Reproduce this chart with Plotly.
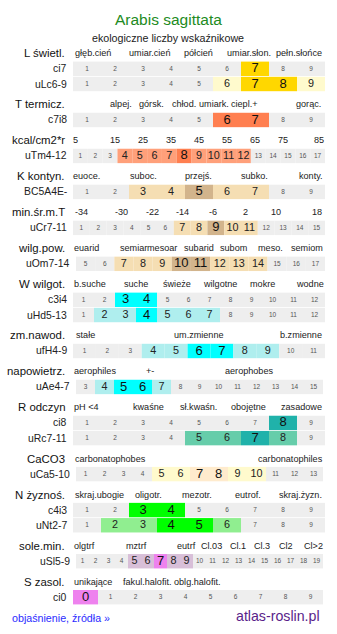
import plotly.graph_objects as go

W, H = 337, 634
FONT = "Liberation Sans, Arial, sans-serif"

TITLE = "Arabis sagittata"
SUBTITLE = "ekologiczne liczby wskaźnikowe"
FOOT_LEFT = "objaśnienie, źródła »"
FOOT_RIGHT = "atlas-roslin.pl"

# ---- data -------------------------------------------------------------
section_names = ["L świetl.", "T termicz.", "kcal/cm2*r", "K kontyn.", "min.śr.m.T",
                 "wilg.pow.", "W wilgot.", "zm.nawod.", "napowietrz.", "R odczyn",
                 "CaCO3", "N żyznoś.", "sole.min.", "S zasol."]

section_headers = [
    ["głęb.cień", "umiar.cień", "półcień", "umiar.słon.", "pełn.słońce"],
    ["alpej.", "górsk.", "chłod.", "umiark.", "ciepl.+", "gorąc."],
    ["5", "15", "25", "35", "45", "55", "65", "75", "85"],
    ["euoce.", "suboc.", "przejś.", "subko.", "konty."],
    ["-34", "-30", "-22", "-14", "-6", "2", "10", "18"],
    ["euarid", "semiar", "mesoar", "subarid", "subom", "meso.", "semiom"],
    ["b.suche", "suche", "świeże", "wilgotne", "mokre", "wodne"],
    ["stałe", "um.zmienne", "b.zmienne"],
    ["aerophiles", "+-", "aerophobes"],
    ["pH <4", "kwaśne", "sł.kwaśn.", "obojętne", "zasadowe"],
    ["carbonatophobes", "carbonatophiles"],
    ["skraj.ubogie", "oligotr.", "mezotr.", "eutrof.", "skraj.żyzn."],
    ["olgtrf", "mztrf", "eutrf", "Cl.03", "Cl.1", "Cl.3", "Cl2", "Cl>2"],
    ["unikające", "fakul.halofit.", "oblg.halofit."],
]

# rows of each section: label, first scale value, last scale value
row_labels = [["ci7", "uLc6-9"], ["c7i8"], ["uTm4-12"], ["BC5A4E-"], ["uCr7-11"],
              ["uOm7-14"], ["c3i4", "uHd5-13"], ["ufH4-9"], ["uAe4-7"],
              ["ci8", "uRc7-11"], ["uCa5-10"], ["c4i3", "uNt2-7"], ["uSl5-9"], ["ci0"]]
row_first = [[1, 1], [1], [1], [1], [1], [5], [1, 1], [1], [3], [1, 1], [1], [1, 1], [1], [0]]
row_last = [[9, 9], [9], [17], [9], [15], [17], [12, 12], [11], [15], [9, 9], [13], [9, 9], [19], [9]]
row_light = [[[], [6, 9]], [[]], [[4, 5, 6, 7, 9, 10, 11, 12]], [[3, 4, 6, 7]], [[7, 8, 10, 11]],
             [[7, 8, 9, 12, 13, 14]], [[], [2, 3, 5, 6, 7]], [[4, 5, 8, 9]], [[4, 7]],
             [[], [5, 6, 8]], [[5, 6, 9, 10]], [[], [2, 3, 6]], [[5, 6, 8, 9]], [[]]]
row_dark = [[[7], [7, 8]], [[6, 7]], [[8]], [[5]], [[9]], [[10, 11]], [[3, 4], [4]], [[6, 7]],
            [[5, 6]], [[8], [7]], [[7, 8]], [[3, 4], [4, 5]], [[7]], [[0]]]

# ---- styles / layout ---------------------------------------------------
light_col = ["#FFFACD", "#FFA07A", "#FFA07A", "#F5DEB3", "#F5DEB3", "#F5DEB3", "#AFEEEE",
             "#AFEEEE", "#AFEEEE", "#66CDAA", "#FFFACD", "#90EE90", "#D8BFD8", "#D8BFD8"]
dark_col = ["#FFD700", "#FF7F50", "#FF7F50", "#D2B48C", "#D2B48C", "#D2B48C", "#00FFFF",
            "#00FFFF", "#00FFFF", "#20B2AA", "#FFEBCD", "#00FF00", "#EE82EE", "#EE82EE"]
GRAY = "#EEEEEE"

header_x = [
    [93, 149, 198.5, 248.8, 299],
    [120.7, 151.5, 183.5, 213.5, 244, 308.8],
    [75.5, 115.3, 143.3, 171, 199, 227, 255, 283, 319],
    [86.7, 143, 198.5, 254.8, 310.5],
    [81.2, 121, 152, 182.8, 213.3, 245.2, 275.8, 317],
    [86, 133.7, 162.3, 199.2, 233.2, 270.5, 306.8],
    [89.7, 135.8, 177.3, 220.3, 262, 310],
    [85, 199.2, 301.3],
    [94.5, 149.5, 248.8],
    [86.3, 148.7, 198.7, 248.3, 301.7],
    [110.2, 290.5],
    [99.2, 148.7, 197.3, 248.2, 300],
    [84.5, 136, 186.7, 211.2, 237.7, 261.8, 286, 313.5],
    [93.3, 147.7, 197.3],
]
wide_rows = {"uOm7-14", "uAe4-7", "uCa5-10", "uSl5-9"}
narrow_end_rows = {"uCa5-10", "uSl5-9", "ci0", "uAe4-7"}

HEAD0 = 53.3
H2R = 8.3
PAIR = 15.2
R2H = 27.67
ROWH = 14.4

fig = go.Figure()
ann = []

ann.append(dict(x=W / 2, y=19.5, text=TITLE, xanchor="center", yanchor="middle",
                font=dict(family=FONT, size=15.5, color="#228B22")))
ann.append(dict(x=W / 2 - 0.5, y=38.3, text=SUBTITLE, xanchor="center", yanchor="middle",
                font=dict(family=FONT, size=10.7, color="#222222")))

y = HEAD0
for s, name in enumerate(section_names):
    ann.append(dict(x=67.3, y=y, text=name, xanchor="right", yanchor="middle",
                    font=dict(family=FONT, size=11.4, color="#111111")))
    for t, hx in zip(section_headers[s], header_x[s]):
        ann.append(dict(x=hx, y=y, text=t, xanchor="center", yanchor="middle",
                        font=dict(family=FONT, size=9.1, color="#222222")))
    rt = y + H2R
    for r, lab in enumerate(row_labels[s]):
        x0 = 76 if lab in wide_rows else 73
        x1 = 323 if lab in narrow_end_rows else 325
        vals = list(range(row_first[s][r], row_last[s][r] + 1))
        n = len(vals)
        cw = (x1 - x0) / n
        yc = rt + ROWH / 2
        cols, sizes, tcols = [], [], []
        for v in vals:
            if v in row_dark[s][r]:
                cols.append(dark_col[s]); sizes.append(13); tcols.append("#111111")
            elif v in row_light[s][r]:
                cols.append(light_col[s]); sizes.append(10.8); tcols.append("#222222")
            else:
                cols.append(GRAY); sizes.append(6.5); tcols.append("#555555")
        fig.add_trace(go.Bar(orientation="h", y=[yc] * n, x=[cw] * n,
                             base=[x0 + i * cw for i in range(n)], width=[ROWH] * n,
                             marker=dict(color=cols, line=dict(width=0)),
                             hoverinfo="skip", showlegend=False))
        fig.add_trace(go.Scatter(x=[x0 + (i + 0.5) * cw for i in range(n)], y=[yc + 0.3] * n,
                                 mode="text", text=[str(v) for v in vals],
                                 textposition="middle center",
                                 textfont=dict(family=FONT, size=sizes, color=tcols),
                                 hoverinfo="skip", showlegend=False))
        ann.append(dict(x=x0 - 3.7, y=yc, text=lab, xanchor="right", yanchor="middle",
                        font=dict(family=FONT, size=10.4, color="#222222")))
        rt += PAIR
    y = rt - PAIR + R2H

ann.append(dict(x=10, y=618.3, text=FOOT_LEFT, xanchor="left", yanchor="middle",
                font=dict(family=FONT, size=10.7, color="#2b2bff")))
ann.append(dict(x=322, y=616, text=FOOT_RIGHT, xanchor="right", yanchor="middle",
                font=dict(family=FONT, size=14.2, color="#5a1e8a")))

for a in ann:
    a.update(xref="x", yref="y", showarrow=False)

fig.update_layout(
    width=W, height=H, margin=dict(l=0, r=0, t=0, b=0),
    paper_bgcolor="white", plot_bgcolor="white",
    barmode="overlay", showlegend=False, annotations=ann,
    xaxis=dict(range=[0, W], visible=False, fixedrange=True),
    yaxis=dict(range=[H, 0], visible=False, fixedrange=True),
    hovermode=False,
)

fig.write_html("out.html", config={"displayModeBar": False})
